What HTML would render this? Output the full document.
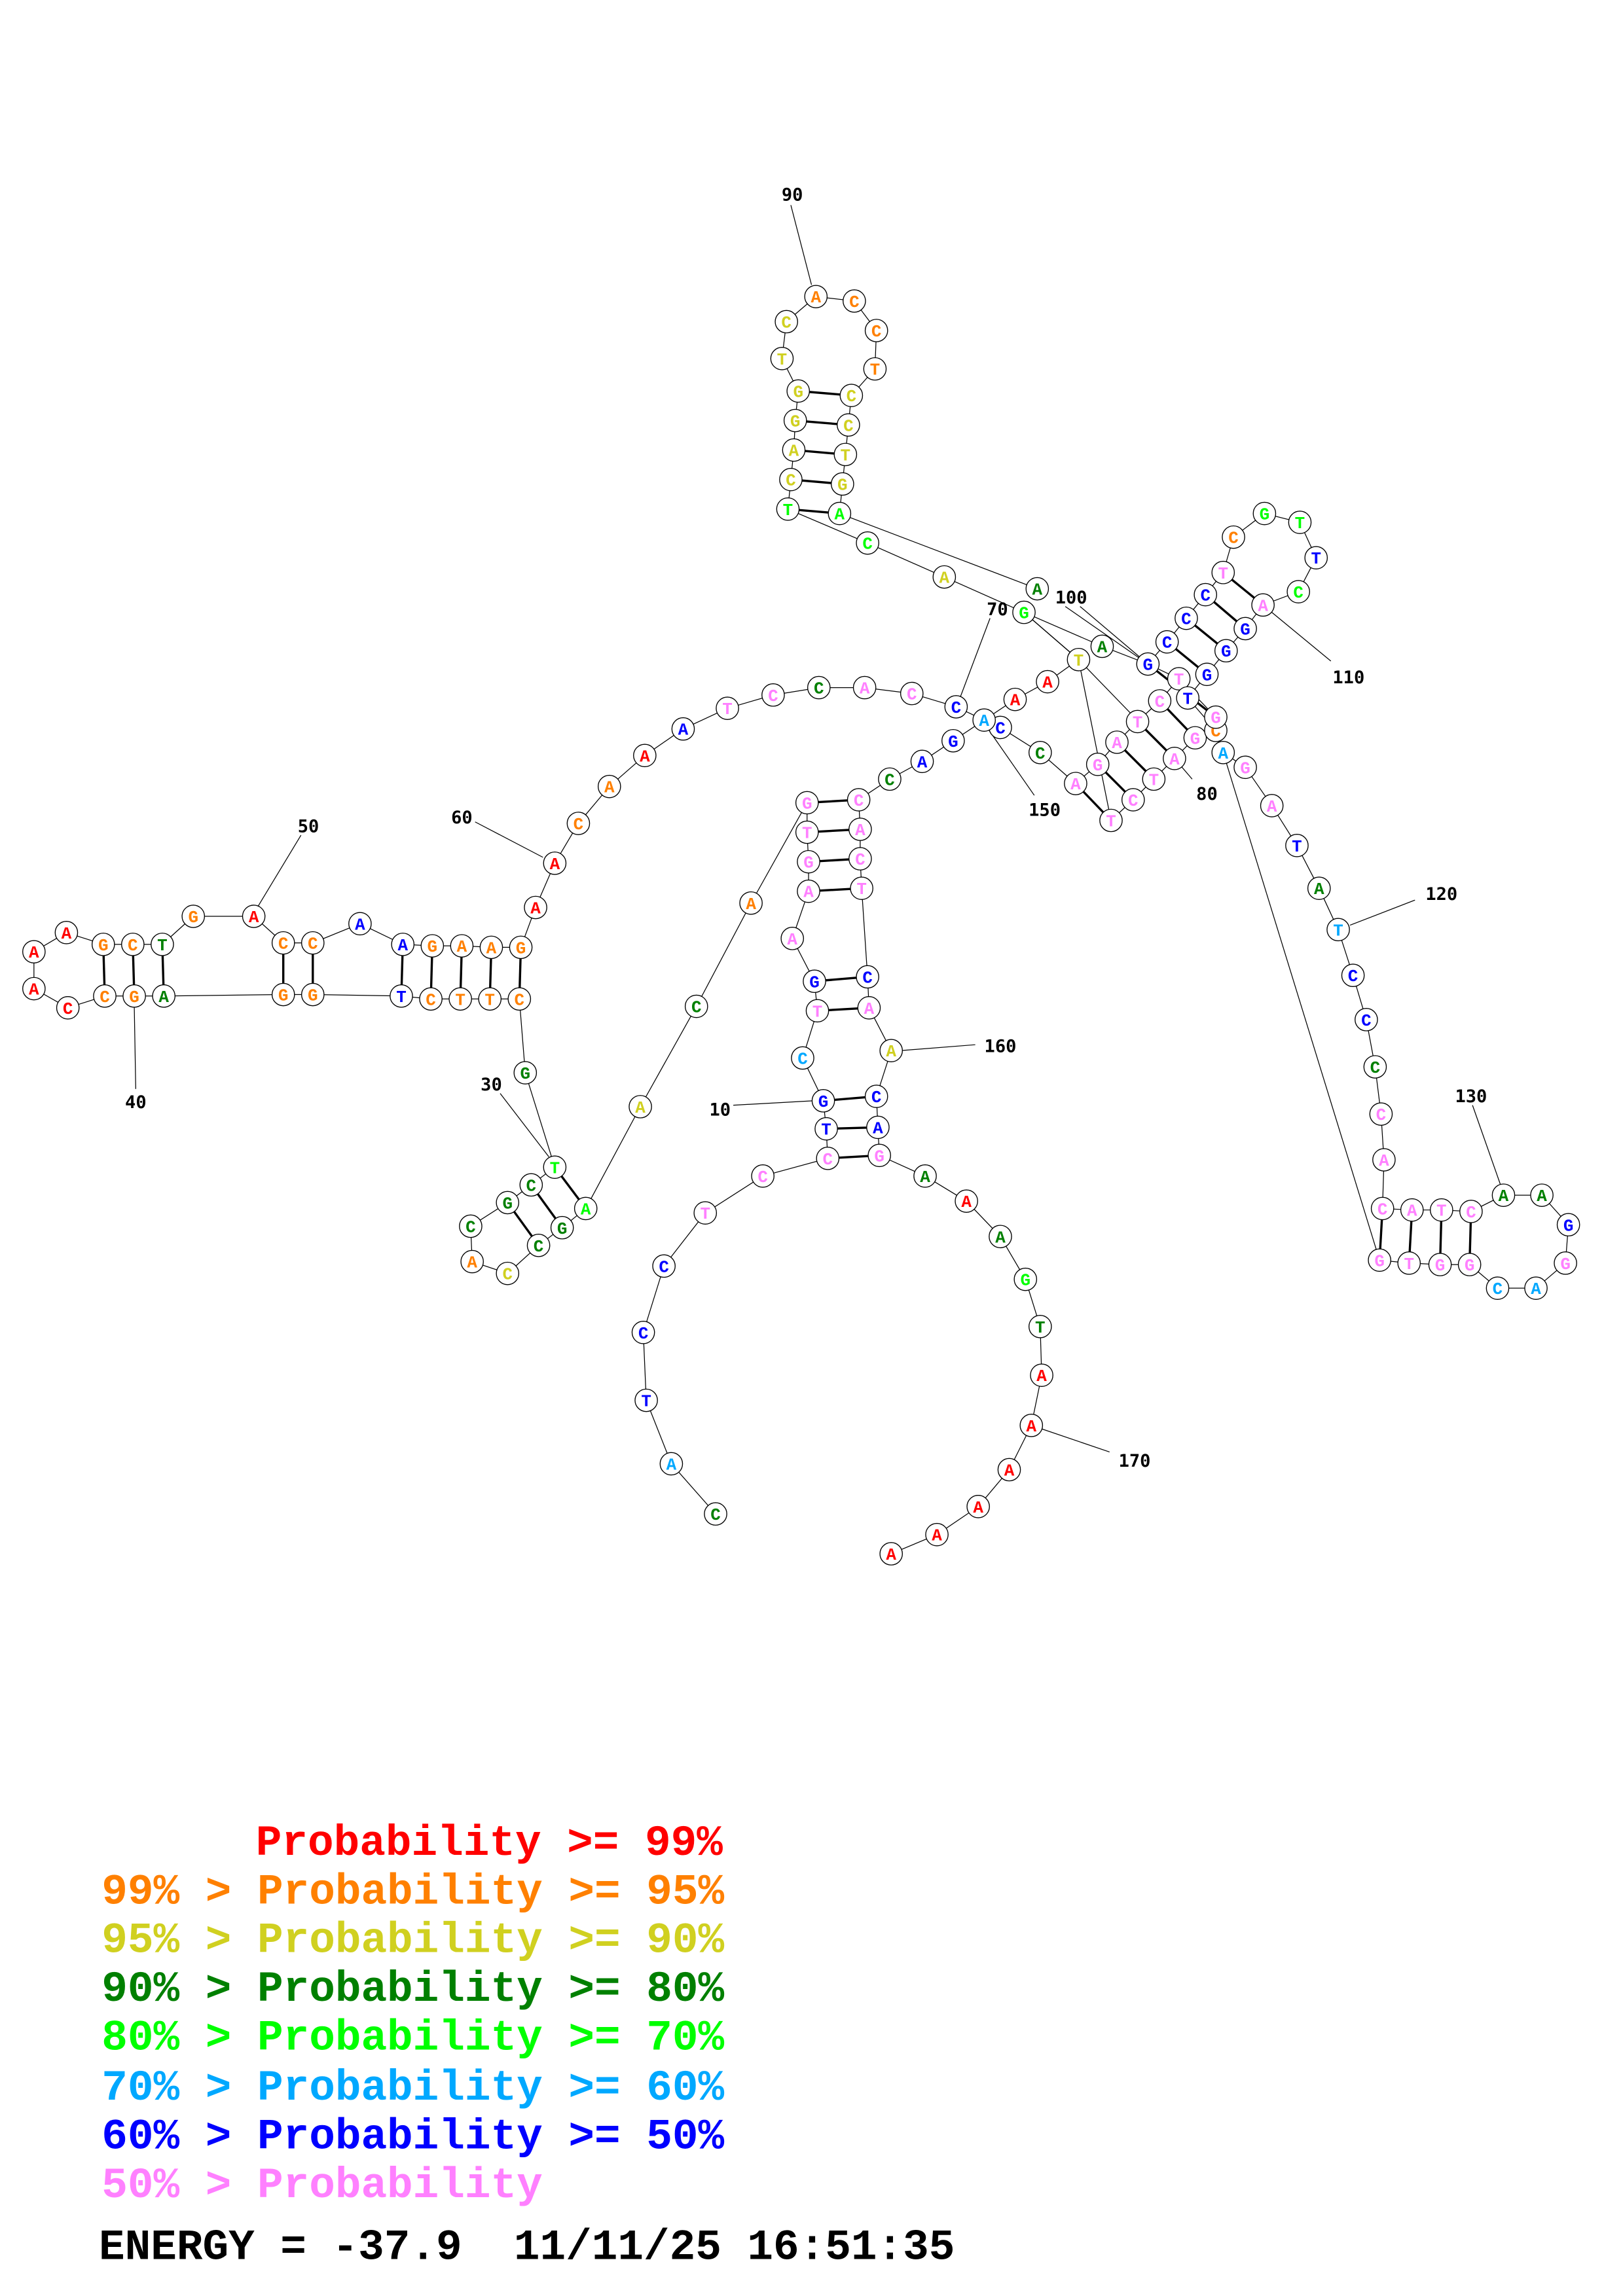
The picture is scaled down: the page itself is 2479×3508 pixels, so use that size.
<!DOCTYPE html>
<html><head><meta charset="utf-8"><style>
html,body{margin:0;padding:0;background:#fff}
svg{display:block}
.n circle{fill:#fff;stroke:#000;stroke-width:0.6}
.n text{font-family:"Liberation Mono",monospace;font-weight:bold;font-size:11.5px;text-anchor:middle}
.r{fill:#ff0000}.o{fill:#ff8000}.y{fill:#d0d020}.d{fill:#008000}.g{fill:#00ff00}.c{fill:#00a8ff}.b{fill:#0000ff}.p{fill:#ff80ff}
.lab{font-family:"DejaVu Sans Mono","Liberation Mono",monospace;font-weight:bold;font-size:12px;text-anchor:middle;fill:#000}
.leg{font-family:"Liberation Mono",monospace;font-weight:bold;font-size:29.3px;white-space:pre}
</style></head><body>
<svg width="2479" height="3508" viewBox="0 0 1100 1556" preserveAspectRatio="none" xmlns="http://www.w3.org/2000/svg">
<rect width="1100" height="1556" fill="#fff"/>
<g fill="none" stroke="#000" stroke-width="0.55">
<polyline points="23,670 46,683 71,675 91,675 111,675 192,674 212,674 272,675 292,677 312,677 332,677 352,677 356,727 376,791 360,803 344,815 319,831 320,855 344,863 365,844 381,832 397,819 434,750 472,682 509,612 547,544 547,564 548,584 548,604 537,636 552,665 554,685 544,717 558,746 560,765 561,785 517,797 478,822 450,858 436,903 438,949 455,992 485,1026"/>
<polyline points="23,670 23,645 45,632 70,640 90,640 110,640 131,621 172,621 192,639 212,639 244,626 273,640 293,641 313,641 333,642 353,642 363,615 376,585 392,558 413,533 437,512 463,494 493,480 524,471 555,466 586,466 618,470 648,479 667,488 688,474 710,462 731,447 694,415 640,391 588,368 534,345 536,325 538,305 539,285 541,265 530,243 533,218 553,201 579,204 594,224 593,250 577,268 575,288 573,308 571,328 569,348 703,399"/>
<polyline points="694,415 747,438 778,450 791,435 804,419 817,403 829,388 836,364 857,348 881,354 892,378 880,401 856,410 844,426 831,441 818,457 805,473 824,495"/>
<polyline points="582,542 583,562 583,582 584,602 588,662 589,683 604,712 594,743 595,764 596,783 627,797 655,814 678,838 695,867 705,899 706,932 699,966 684,996 663,1021 635,1040 604,1053"/>
<polyline points="582,542 603,528 625,516 646,502 667,488 678,493 705,510 729,531 744,518 757,503 771,489 786,475 799,460 778,450"/>
<polyline points="753,556 768,542 782,528 796,514 810,500 824,495 829,510 844,520 862,546 879,573 894,602 907,630 917,661 926,691 932,723 936,755 938,786 937,819 957,820 977,820 997,821 1019,810 1045,810 1063,830 1061,856 1041,873 1015,873 996,857 976,857 955,856 935,854"/>
<line x1="731" y1="447" x2="753" y2="556"/><line x1="731" y1="447" x2="796" y2="514"/>
<line x1="829" y1="510" x2="935" y2="854"/><line x1="694" y1="415" x2="731" y2="447"/>
<line x1="799" y1="460" x2="824" y2="486"/>
<line x1="536" y1="139" x2="550" y2="193"/>
<line x1="722" y1="411" x2="778" y2="450"/><line x1="732" y1="411" x2="778" y2="450"/>
<line x1="671" y1="419" x2="651" y2="472"/>
<line x1="902" y1="448" x2="862" y2="415"/>
<line x1="808" y1="528" x2="796" y2="514"/>
<line x1="701" y1="539" x2="669" y2="493"/>
<line x1="204" y1="566" x2="175" y2="614"/>
<line x1="322" y1="557" x2="368" y2="581"/>
<line x1="91" y1="682" x2="92" y2="738"/>
<line x1="339" y1="741" x2="372" y2="784"/>
<line x1="497" y1="749" x2="551" y2="746"/>
<line x1="610" y1="712" x2="661" y2="708"/>
<line x1="705" y1="968" x2="752" y2="984"/>
<line x1="915" y1="627" x2="959" y2="610"/>
<line x1="998" y1="749" x2="1017" y2="803"/>
</g>
<g stroke="#000" stroke-width="1.5">
<line x1="70" y1="640" x2="71" y2="675"/><line x1="90" y1="640" x2="91" y2="675"/><line x1="110" y1="640" x2="111" y2="675"/>
<line x1="192" y1="639" x2="192" y2="674"/><line x1="212" y1="639" x2="212" y2="674"/>
<line x1="273" y1="640" x2="272" y2="675"/><line x1="293" y1="641" x2="292" y2="677"/><line x1="313" y1="641" x2="312" y2="677"/><line x1="333" y1="642" x2="332" y2="677"/><line x1="353" y1="642" x2="352" y2="677"/>
<line x1="397" y1="819" x2="376" y2="791"/><line x1="381" y1="832" x2="360" y2="803"/><line x1="365" y1="844" x2="344" y2="815"/>
<line x1="547" y1="544" x2="582" y2="542"/><line x1="547" y1="564" x2="583" y2="562"/><line x1="548" y1="584" x2="583" y2="582"/><line x1="548" y1="604" x2="584" y2="602"/>
<line x1="552" y1="665" x2="588" y2="662"/><line x1="554" y1="685" x2="589" y2="683"/>
<line x1="558" y1="746" x2="594" y2="743"/><line x1="560" y1="765" x2="595" y2="764"/><line x1="561" y1="785" x2="596" y2="783"/>
<line x1="534" y1="345" x2="569" y2="348"/><line x1="536" y1="325" x2="571" y2="328"/><line x1="538" y1="305" x2="573" y2="308"/><line x1="539" y1="285" x2="575" y2="288"/><line x1="541" y1="265" x2="577" y2="268"/>
<line x1="791" y1="435" x2="818" y2="457"/><line x1="804" y1="419" x2="831" y2="441"/><line x1="817" y1="403" x2="844" y2="426"/><line x1="829" y1="388" x2="856" y2="410"/>
<line x1="778" y1="450" x2="824" y2="486"/>
<line x1="786" y1="475" x2="810" y2="500"/><line x1="771" y1="489" x2="796" y2="514"/><line x1="757" y1="503" x2="782" y2="528"/><line x1="744" y1="518" x2="768" y2="542"/><line x1="729" y1="531" x2="753" y2="556"/>
<line x1="937" y1="819" x2="935" y2="854"/><line x1="957" y1="820" x2="955" y2="856"/><line x1="977" y1="820" x2="976" y2="857"/><line x1="997" y1="821" x2="996" y2="857"/>
</g>
<g class="n">
<circle cx="23" cy="645" r="7.6"/><text x="23" y="649" class="r">A</text>
<circle cx="45" cy="632" r="7.6"/><text x="45" y="636" class="r">A</text>
<circle cx="70" cy="640" r="7.6"/><text x="70" y="644" class="o">G</text>
<circle cx="90" cy="640" r="7.6"/><text x="90" y="644" class="o">C</text>
<circle cx="110" cy="640" r="7.6"/><text x="110" y="644" class="d">T</text>
<circle cx="131" cy="621" r="7.6"/><text x="131" y="625" class="o">G</text>
<circle cx="172" cy="621" r="7.6"/><text x="172" y="625" class="r">A</text>
<circle cx="192" cy="639" r="7.6"/><text x="192" y="643" class="o">C</text>
<circle cx="212" cy="639" r="7.6"/><text x="212" y="643" class="o">C</text>
<circle cx="244" cy="626" r="7.6"/><text x="244" y="630" class="b">A</text>
<circle cx="273" cy="640" r="7.6"/><text x="273" y="644" class="b">A</text>
<circle cx="293" cy="641" r="7.6"/><text x="293" y="645" class="o">G</text>
<circle cx="313" cy="641" r="7.6"/><text x="313" y="645" class="o">A</text>
<circle cx="333" cy="642" r="7.6"/><text x="333" y="646" class="o">A</text>
<circle cx="353" cy="642" r="7.6"/><text x="353" y="646" class="o">G</text>
<circle cx="363" cy="615" r="7.6"/><text x="363" y="619" class="r">A</text>
<circle cx="376" cy="585" r="7.6"/><text x="376" y="589" class="r">A</text>
<circle cx="392" cy="558" r="7.6"/><text x="392" y="562" class="o">C</text>
<circle cx="413" cy="533" r="7.6"/><text x="413" y="537" class="o">A</text>
<circle cx="437" cy="512" r="7.6"/><text x="437" y="516" class="r">A</text>
<circle cx="463" cy="494" r="7.6"/><text x="463" y="498" class="b">A</text>
<circle cx="493" cy="480" r="7.6"/><text x="493" y="484" class="p">T</text>
<circle cx="524" cy="471" r="7.6"/><text x="524" y="475" class="p">C</text>
<circle cx="555" cy="466" r="7.6"/><text x="555" y="470" class="d">C</text>
<circle cx="586" cy="466" r="7.6"/><text x="586" y="470" class="p">A</text>
<circle cx="618" cy="470" r="7.6"/><text x="618" y="474" class="p">C</text>
<circle cx="648" cy="479" r="7.6"/><text x="648" y="483" class="b">C</text>
<circle cx="23" cy="670" r="7.6"/><text x="23" y="674" class="r">A</text>
<circle cx="46" cy="683" r="7.6"/><text x="46" y="687" class="r">C</text>
<circle cx="71" cy="675" r="7.6"/><text x="71" y="679" class="o">C</text>
<circle cx="91" cy="675" r="7.6"/><text x="91" y="679" class="o">G</text>
<circle cx="111" cy="675" r="7.6"/><text x="111" y="679" class="d">A</text>
<circle cx="192" cy="674" r="7.6"/><text x="192" y="678" class="o">G</text>
<circle cx="212" cy="674" r="7.6"/><text x="212" y="678" class="o">G</text>
<circle cx="272" cy="675" r="7.6"/><text x="272" y="679" class="b">T</text>
<circle cx="292" cy="677" r="7.6"/><text x="292" y="681" class="o">C</text>
<circle cx="312" cy="677" r="7.6"/><text x="312" y="681" class="o">T</text>
<circle cx="332" cy="677" r="7.6"/><text x="332" y="681" class="o">T</text>
<circle cx="352" cy="677" r="7.6"/><text x="352" y="681" class="o">C</text>
<circle cx="356" cy="727" r="7.6"/><text x="356" y="731" class="d">G</text>
<circle cx="376" cy="791" r="7.6"/><text x="376" y="795" class="g">T</text>
<circle cx="397" cy="819" r="7.6"/><text x="397" y="823" class="g">A</text>
<circle cx="381" cy="832" r="7.6"/><text x="381" y="836" class="d">G</text>
<circle cx="365" cy="844" r="7.6"/><text x="365" y="848" class="d">C</text>
<circle cx="344" cy="863" r="7.6"/><text x="344" y="867" class="y">C</text>
<circle cx="320" cy="855" r="7.6"/><text x="320" y="859" class="o">A</text>
<circle cx="319" cy="831" r="7.6"/><text x="319" y="835" class="d">C</text>
<circle cx="344" cy="815" r="7.6"/><text x="344" y="819" class="d">G</text>
<circle cx="360" cy="803" r="7.6"/><text x="360" y="807" class="d">C</text>
<circle cx="434" cy="750" r="7.6"/><text x="434" y="754" class="y">A</text>
<circle cx="472" cy="682" r="7.6"/><text x="472" y="686" class="d">C</text>
<circle cx="509" cy="612" r="7.6"/><text x="509" y="616" class="o">A</text>
<circle cx="547" cy="544" r="7.6"/><text x="547" y="548" class="p">G</text>
<circle cx="547" cy="564" r="7.6"/><text x="547" y="568" class="p">T</text>
<circle cx="548" cy="584" r="7.6"/><text x="548" y="588" class="p">G</text>
<circle cx="548" cy="604" r="7.6"/><text x="548" y="608" class="p">A</text>
<circle cx="537" cy="636" r="7.6"/><text x="537" y="640" class="p">A</text>
<circle cx="552" cy="665" r="7.6"/><text x="552" y="669" class="b">G</text>
<circle cx="554" cy="685" r="7.6"/><text x="554" y="689" class="p">T</text>
<circle cx="544" cy="717" r="7.6"/><text x="544" y="721" class="c">C</text>
<circle cx="558" cy="746" r="7.6"/><text x="558" y="750" class="b">G</text>
<circle cx="560" cy="765" r="7.6"/><text x="560" y="769" class="b">T</text>
<circle cx="561" cy="785" r="7.6"/><text x="561" y="789" class="p">C</text>
<circle cx="517" cy="797" r="7.6"/><text x="517" y="801" class="p">C</text>
<circle cx="478" cy="822" r="7.6"/><text x="478" y="826" class="p">T</text>
<circle cx="450" cy="858" r="7.6"/><text x="450" y="862" class="b">C</text>
<circle cx="436" cy="903" r="7.6"/><text x="436" y="907" class="b">C</text>
<circle cx="438" cy="949" r="7.6"/><text x="438" y="953" class="b">T</text>
<circle cx="455" cy="992" r="7.6"/><text x="455" y="996" class="c">A</text>
<circle cx="485" cy="1026" r="7.6"/><text x="485" y="1030" class="d">C</text>
<circle cx="582" cy="542" r="7.6"/><text x="582" y="546" class="p">C</text>
<circle cx="583" cy="562" r="7.6"/><text x="583" y="566" class="p">A</text>
<circle cx="583" cy="582" r="7.6"/><text x="583" y="586" class="p">C</text>
<circle cx="584" cy="602" r="7.6"/><text x="584" y="606" class="p">T</text>
<circle cx="588" cy="662" r="7.6"/><text x="588" y="666" class="b">C</text>
<circle cx="589" cy="683" r="7.6"/><text x="589" y="687" class="p">A</text>
<circle cx="604" cy="712" r="7.6"/><text x="604" y="716" class="y">A</text>
<circle cx="594" cy="743" r="7.6"/><text x="594" y="747" class="b">C</text>
<circle cx="595" cy="764" r="7.6"/><text x="595" y="768" class="b">A</text>
<circle cx="596" cy="783" r="7.6"/><text x="596" y="787" class="p">G</text>
<circle cx="627" cy="797" r="7.6"/><text x="627" y="801" class="d">A</text>
<circle cx="655" cy="814" r="7.6"/><text x="655" y="818" class="r">A</text>
<circle cx="678" cy="838" r="7.6"/><text x="678" y="842" class="d">A</text>
<circle cx="695" cy="867" r="7.6"/><text x="695" y="871" class="g">G</text>
<circle cx="705" cy="899" r="7.6"/><text x="705" y="903" class="d">T</text>
<circle cx="706" cy="932" r="7.6"/><text x="706" y="936" class="r">A</text>
<circle cx="699" cy="966" r="7.6"/><text x="699" y="970" class="r">A</text>
<circle cx="684" cy="996" r="7.6"/><text x="684" y="1000" class="r">A</text>
<circle cx="663" cy="1021" r="7.6"/><text x="663" y="1025" class="r">A</text>
<circle cx="635" cy="1040" r="7.6"/><text x="635" y="1044" class="r">A</text>
<circle cx="604" cy="1053" r="7.6"/><text x="604" y="1057" class="r">A</text>
<circle cx="603" cy="528" r="7.6"/><text x="603" y="532" class="d">C</text>
<circle cx="625" cy="516" r="7.6"/><text x="625" y="520" class="b">A</text>
<circle cx="646" cy="502" r="7.6"/><text x="646" y="506" class="b">G</text>
<circle cx="678" cy="493" r="7.6"/><text x="678" y="497" class="b">C</text>
<circle cx="667" cy="488" r="7.6"/><text x="667" y="492" class="c">A</text>
<circle cx="705" cy="510" r="7.6"/><text x="705" y="514" class="d">C</text>
<circle cx="729" cy="531" r="7.6"/><text x="729" y="535" class="p">A</text>
<circle cx="753" cy="556" r="7.6"/><text x="753" y="560" class="p">T</text>
<circle cx="768" cy="542" r="7.6"/><text x="768" y="546" class="p">C</text>
<circle cx="782" cy="528" r="7.6"/><text x="782" y="532" class="p">T</text>
<circle cx="796" cy="514" r="7.6"/><text x="796" y="518" class="p">A</text>
<circle cx="810" cy="500" r="7.6"/><text x="810" y="504" class="p">G</text>
<circle cx="744" cy="518" r="7.6"/><text x="744" y="522" class="p">G</text>
<circle cx="757" cy="503" r="7.6"/><text x="757" y="507" class="p">A</text>
<circle cx="771" cy="489" r="7.6"/><text x="771" y="493" class="p">T</text>
<circle cx="786" cy="475" r="7.6"/><text x="786" y="479" class="p">C</text>
<circle cx="688" cy="474" r="7.6"/><text x="688" y="478" class="r">A</text>
<circle cx="710" cy="462" r="7.6"/><text x="710" y="466" class="r">A</text>
<circle cx="731" cy="447" r="7.6"/><text x="731" y="451" class="y">T</text>
<circle cx="694" cy="415" r="7.6"/><text x="694" y="419" class="g">G</text>
<circle cx="747" cy="438" r="7.6"/><text x="747" y="442" class="d">A</text>
<circle cx="703" cy="399" r="7.6"/><text x="703" y="403" class="d">A</text>
<circle cx="640" cy="391" r="7.6"/><text x="640" y="395" class="y">A</text>
<circle cx="588" cy="368" r="7.6"/><text x="588" y="372" class="g">C</text>
<circle cx="534" cy="345" r="7.6"/><text x="534" y="349" class="g">T</text>
<circle cx="536" cy="325" r="7.6"/><text x="536" y="329" class="y">C</text>
<circle cx="538" cy="305" r="7.6"/><text x="538" y="309" class="y">A</text>
<circle cx="539" cy="285" r="7.6"/><text x="539" y="289" class="y">G</text>
<circle cx="541" cy="265" r="7.6"/><text x="541" y="269" class="y">G</text>
<circle cx="530" cy="243" r="7.6"/><text x="530" y="247" class="y">T</text>
<circle cx="533" cy="218" r="7.6"/><text x="533" y="222" class="y">C</text>
<circle cx="553" cy="201" r="7.6"/><text x="553" y="205" class="o">A</text>
<circle cx="579" cy="204" r="7.6"/><text x="579" y="208" class="o">C</text>
<circle cx="594" cy="224" r="7.6"/><text x="594" y="228" class="o">C</text>
<circle cx="593" cy="250" r="7.6"/><text x="593" y="254" class="o">T</text>
<circle cx="577" cy="268" r="7.6"/><text x="577" y="272" class="y">C</text>
<circle cx="575" cy="288" r="7.6"/><text x="575" y="292" class="y">C</text>
<circle cx="573" cy="308" r="7.6"/><text x="573" y="312" class="y">T</text>
<circle cx="571" cy="328" r="7.6"/><text x="571" y="332" class="y">G</text>
<circle cx="569" cy="348" r="7.6"/><text x="569" y="352" class="g">A</text>
<circle cx="778" cy="450" r="7.6"/><text x="778" y="454" class="b">G</text>
<circle cx="791" cy="435" r="7.6"/><text x="791" y="439" class="b">C</text>
<circle cx="804" cy="419" r="7.6"/><text x="804" y="423" class="b">C</text>
<circle cx="817" cy="403" r="7.6"/><text x="817" y="407" class="b">C</text>
<circle cx="829" cy="388" r="7.6"/><text x="829" y="392" class="p">T</text>
<circle cx="836" cy="364" r="7.6"/><text x="836" y="368" class="o">C</text>
<circle cx="857" cy="348" r="7.6"/><text x="857" y="352" class="g">G</text>
<circle cx="881" cy="354" r="7.6"/><text x="881" y="358" class="g">T</text>
<circle cx="892" cy="378" r="7.6"/><text x="892" y="382" class="b">T</text>
<circle cx="880" cy="401" r="7.6"/><text x="880" y="405" class="g">C</text>
<circle cx="856" cy="410" r="7.6"/><text x="856" y="414" class="p">A</text>
<circle cx="844" cy="426" r="7.6"/><text x="844" y="430" class="b">G</text>
<circle cx="831" cy="441" r="7.6"/><text x="831" y="445" class="b">G</text>
<circle cx="818" cy="457" r="7.6"/><text x="818" y="461" class="b">G</text>
<circle cx="799" cy="460" r="7.6"/><text x="799" y="464" class="p">T</text>
<circle cx="805" cy="473" r="7.6"/><text x="805" y="477" class="b">T</text>
<circle cx="824" cy="495" r="7.6"/><text x="824" y="499" class="o">C</text>
<circle cx="824" cy="486" r="7.6"/><text x="824" y="490" class="p">G</text>
<circle cx="829" cy="510" r="7.6"/><text x="829" y="514" class="c">A</text>
<circle cx="844" cy="520" r="7.6"/><text x="844" y="524" class="p">G</text>
<circle cx="862" cy="546" r="7.6"/><text x="862" y="550" class="p">A</text>
<circle cx="879" cy="573" r="7.6"/><text x="879" y="577" class="b">T</text>
<circle cx="894" cy="602" r="7.6"/><text x="894" y="606" class="d">A</text>
<circle cx="907" cy="630" r="7.6"/><text x="907" y="634" class="c">T</text>
<circle cx="917" cy="661" r="7.6"/><text x="917" y="665" class="b">C</text>
<circle cx="926" cy="691" r="7.6"/><text x="926" y="695" class="b">C</text>
<circle cx="932" cy="723" r="7.6"/><text x="932" y="727" class="d">C</text>
<circle cx="936" cy="755" r="7.6"/><text x="936" y="759" class="p">C</text>
<circle cx="938" cy="786" r="7.6"/><text x="938" y="790" class="p">A</text>
<circle cx="937" cy="819" r="7.6"/><text x="937" y="823" class="p">C</text>
<circle cx="957" cy="820" r="7.6"/><text x="957" y="824" class="p">A</text>
<circle cx="977" cy="820" r="7.6"/><text x="977" y="824" class="p">T</text>
<circle cx="997" cy="821" r="7.6"/><text x="997" y="825" class="p">C</text>
<circle cx="1019" cy="810" r="7.6"/><text x="1019" y="814" class="d">A</text>
<circle cx="1045" cy="810" r="7.6"/><text x="1045" y="814" class="d">A</text>
<circle cx="1063" cy="830" r="7.6"/><text x="1063" y="834" class="b">G</text>
<circle cx="1061" cy="856" r="7.6"/><text x="1061" y="860" class="p">G</text>
<circle cx="1041" cy="873" r="7.6"/><text x="1041" y="877" class="c">A</text>
<circle cx="1015" cy="873" r="7.6"/><text x="1015" y="877" class="c">C</text>
<circle cx="996" cy="857" r="7.6"/><text x="996" y="861" class="p">G</text>
<circle cx="976" cy="857" r="7.6"/><text x="976" y="861" class="p">G</text>
<circle cx="955" cy="856" r="7.6"/><text x="955" y="860" class="p">T</text>
<circle cx="935" cy="854" r="7.6"/><text x="935" y="858" class="p">G</text>
</g>
<g class="lab">
<text x="537" y="136">90</text>
<text x="726" y="409">100</text>
<text x="676" y="417">70</text>
<text x="914" y="463">110</text>
<text x="818" y="542">80</text>
<text x="708" y="553">150</text>
<text x="209" y="564">50</text>
<text x="313" y="558">60</text>
<text x="92" y="751">40</text>
<text x="333" y="739">30</text>
<text x="488" y="756">10</text>
<text x="678" y="713">160</text>
<text x="769" y="994">170</text>
<text x="977" y="610">120</text>
<text x="997" y="747">130</text>
</g>
<g class="leg">
<text x="173.4" y="1257" class="r">Probability &gt;= 99%</text>
<text x="68.9" y="1290" class="o">99% &gt; Probability &gt;= 95%</text>
<text x="68.9" y="1323" class="y">95% &gt; Probability &gt;= 90%</text>
<text x="68.9" y="1356" class="d">90% &gt; Probability &gt;= 80%</text>
<text x="68.9" y="1389" class="g">80% &gt; Probability &gt;= 70%</text>
<text x="68.9" y="1423" class="c">70% &gt; Probability &gt;= 60%</text>
<text x="68.9" y="1456" class="b">60% &gt; Probability &gt;= 50%</text>
<text x="68.9" y="1489" class="p">50% &gt; Probability</text>
<text x="67" y="1531" fill="#000">ENERGY = -37.9&#160; 11/11/25 16:51:35</text>
</g>
</svg>
</body></html>
